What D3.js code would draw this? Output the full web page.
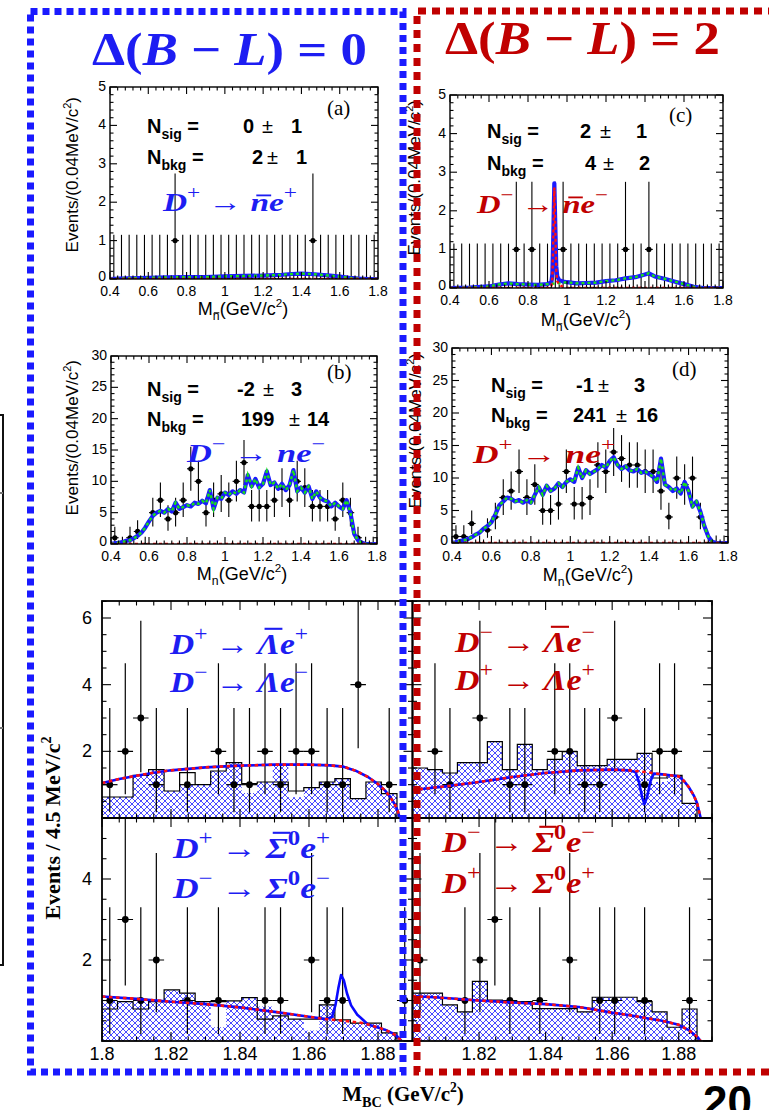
<!DOCTYPE html>
<html>
<head>
<meta charset="utf-8">
<script src="https://cdn.jsdelivr.net/npm/d3@7/dist/d3.min.js"></script>
<style>
html,body{margin:0;padding:0;background:#fff;}
svg{display:block;}
</style>
</head>
<body>
<svg id="fig" width="769" height="1110" xmlns="http://www.w3.org/2000/svg"></svg>
<script>
// ---------- M(n) spectra: 35 bins of 0.04 GeV/c^2 between 0.40 and 1.80 ----------
const mnBinLow = 0.40, mnBinWidth = 0.04;
const countsA = [0,0,0,0,0,0,0,0,1,0, 0,0,0,0,0,0,0,0,0,0, 0,0,0,0,0,0,1,0,0,0, 0,0,0,0,0];
const countsC = [0,0,0,0,0,0,0,0,1,0, 1,0,0,1,1,0,0,0,0,0, 0,0,1,0,0,1,0,0,0,0, 0,0,0,0,0];
const countsB = [1,0,1,2,0,5,7,4,5,7, 12,10,5,7,8,7,10,13,6,6, 6,7,9,7,10,9,6,6,6,4, 7,5,1,0,0];
const countsD = [1,1,3,0,2,4,7,8,11,7, 9,5,5,6,11,6,6,7,12,11, 14,13,12,12,11,11,8,4,10,9, 10,4,0,0,0];
// 68% intervals drawn for a bin content of n events (index = n)
const mnErrLo = [0, 0, 0.8, 1.4, 2.1, 2.8, 3.6, 4.3, 5.1, 5.9, 6.8, 7.7, 8.5, 9.4, 10.3];
const mnErrHi = [1.15, 2.75, 3.8, 5.0, 6.2, 7.4, 8.6, 9.8, 11.0, 12.1, 13.3, 14.4, 15.5, 16.6, 17.7];

// fitted shapes, (a) and (c)
const bkgA = [[0.40,0],[0.45,0.01],[0.50,0.02],[0.60,0.03],[0.70,0.04],[0.80,0.05],[0.90,0.05],[1.00,0.07],[1.10,0.08],[1.20,0.09],[1.30,0.11],[1.35,0.13],[1.40,0.14],[1.45,0.13],[1.50,0.11],[1.55,0.09],[1.60,0.06],[1.65,0.03],[1.70,0.01],[1.75,0],[1.80,0]];
const sigA = [[0.40,0],[1.80,0]];
const bkgC = [[0.40,0],[0.50,0.01],[0.60,0.04],[0.65,0.09],[0.70,0.12],[0.75,0.10],[0.80,0.09],[0.85,0.08],[0.90,0.10],[0.95,0.12],[1.00,0.15],[1.05,0.12],[1.10,0.13],[1.15,0.14],[1.20,0.18],[1.25,0.20],[1.30,0.25],[1.35,0.28],[1.40,0.35],[1.42,0.38],[1.45,0.30],[1.50,0.24],[1.55,0.17],[1.60,0.10],[1.65,0.03],[1.70,0],[1.80,0]];
const sigC = [[0.40,0],[0.91,0],[0.92,0.04],[0.925,0.25],[0.93,1.3],[0.935,2.6],[0.94,1.5],[0.945,0.45],[0.95,0.18],[0.96,0.08],[0.98,0.03],[1.00,0],[1.80,0]];
const totC = [[0.40,0],[0.50,0.01],[0.60,0.04],[0.65,0.09],[0.70,0.12],[0.75,0.10],[0.80,0.09],[0.85,0.08],[0.90,0.10],[0.92,0.15],[0.925,0.36],[0.93,1.41],[0.935,2.71],[0.94,1.61],[0.945,0.56],[0.95,0.30],[0.96,0.20],[0.98,0.17],[1.00,0.15],[1.05,0.12],[1.10,0.13],[1.15,0.14],[1.20,0.18],[1.25,0.20],[1.30,0.25],[1.35,0.28],[1.40,0.35],[1.42,0.38],[1.45,0.30],[1.50,0.24],[1.55,0.17],[1.60,0.10],[1.65,0.03],[1.70,0],[1.80,0]];
// fitted background shapes of (b) and (d), sampled every 0.02 GeV/c^2 from 0.40
const bkgB = [0.0,0.1,0.2,0.3,0.5,0.6,0.9,1.3,1.8,2.6,3.6,4.5,5.0,5.3,5.0,5.6,5.2,6.6,5.6,5.9,6.2,6.0,6.6,6.4,6.9,6.5,8.6,5.6,7.4,7.2,8.2,7.8,8.4,8.0,8.6,8.2,11.0,9.2,10.4,9.0,9.6,11.6,9.4,9.8,8.8,9.6,8.6,9.4,11.8,8.4,9.0,8.2,9.2,7.2,8.4,7.4,7.0,6.8,6.0,6.6,6.0,5.6,7.0,5.0,1.6,0.6,0.2,0.0,0.0,0.0,0.0];
const bkgD = [0.0,0.1,0.3,0.4,0.6,0.9,1.3,1.6,2.2,2.6,3.2,4.4,5.8,6.4,7.0,6.8,6.4,6.6,6.2,6.6,6.2,7.4,8.6,7.4,8.8,8.0,8.4,9.2,8.6,9.4,9.8,9.4,11.6,10.0,11.2,10.6,11.0,11.4,12.0,11.6,12.6,13.2,12.0,11.4,11.8,11.2,11.0,11.4,10.8,11.0,10.6,10.2,9.4,13.0,9.0,8.6,8.0,8.4,7.6,9.4,8.0,5.6,6.4,4.8,2.6,1.0,0.2,0.0,0.0,0.0,0.0];
const mnGrid = d3.range(bkgB.length).map(i => +(0.40 + 0.02 * i).toFixed(2));
const zeroLine = [[0.40,0],[1.80,0]];

// ---------- M_BC spectra: 20 bins of 4.5 MeV/c^2 between 1.800 and 1.890 ----------
const mbcLow = 1.800, mbcBinWidth = 0.0045, mbcBins = 20;
const countsLamB0 = [1,2,3,1,0,1,0,2,1,1,2,1,2,2,1,1,4,0,1,0];
const countsLamB2 = [0,2,1,0,3,0,1,1,0,2,2,1,1,3,0,1,2,2,0,0];
const countsSigB0 = [1,3,1,2,0,1,0,1,0,0,1,1,0,2,1,1,0,0,0,1];
const countsSigB2 = [2,0,0,1,2,3,1,0,1,0,2,0,1,1,0,1,0,0,1,0];
// Poisson 68% intervals (index = n)
const mbcErrLo = [0, 0.17, 0.71, 1.37, 2.09];
const mbcErrHi = [0, 3.30, 4.64, 5.92, 7.16];
// simulated background: hatched histogram and open histogram
const hatchLamB0 = [0.63,0.63,1.28,1.45,0.81,1.00,1.00,1.41,1.66,0.75,1.08,1.56,0.62,0.91,1.08,1.18,0.58,1.08,0.73,0];
const openLamB0  = [0.63,0.63,1.28,1.45,0.81,1.36,1.00,1.41,1.66,1.03,1.08,1.08,0.81,0.91,1.08,1.18,0.58,1.08,0.73,0];
const hatchLamB2 = [1.50,1.45,1.35,1.66,1.66,2.29,1.45,2.21,1.45,1.76,1.99,1.57,1.57,1.76,1.76,1.94,1.08,1.28,0.44,0];
const openLamB2  = [1.50,1.45,1.35,1.66,1.66,2.29,1.45,2.21,1.45,1.76,1.99,1.57,1.57,1.76,1.76,1.94,1.20,1.28,0.44,0];
const hatchSigB0 = [1.00,0.97,0.97,0.97,1.26,1.18,0.97,0.34,0.99,1.07,0.85,0.62,0.54,0.26,0.89,0.52,0.44,0.44,0.20,0];
const openSigB0  = [0.79,0.97,0.79,0.97,1.26,1.18,0.97,0.97,0.99,1.07,0.54,0.62,0.54,0.54,0.89,0.52,0.44,0.44,0.20,0];
const hatchSigB2 = [1.18,1.18,0.89,0.72,1.47,1.01,0.97,0.97,0.80,0.80,0.80,0.72,1.08,1.08,1.08,0.97,0.72,0.34,0.79,0];
const openSigB2  = [1.18,1.18,0.89,0.72,1.47,1.01,0.97,0.97,0.80,0.80,0.80,0.72,1.08,1.08,1.08,0.97,0.72,0.34,0.79,0];
// fit results: total (blue) and background (red dashed)
const fitLamB0 = [[1.800,1.05],[1.805,1.17],[1.810,1.27],[1.815,1.36],[1.820,1.43],[1.830,1.52],[1.840,1.57],[1.850,1.60],[1.860,1.60],[1.866,1.58],[1.870,1.54],[1.8735,1.42],[1.8771,1.23],[1.880,1.02],[1.882,0.83],[1.8835,0.64],[1.8848,0.42],[1.8857,0.22],[1.8863,0]];
const bkgLamB2 = [[1.800,0.84],[1.810,0.95],[1.820,1.08],[1.830,1.23],[1.840,1.35],[1.850,1.43],[1.860,1.45],[1.865,1.43],[1.870,1.38],[1.875,1.31],[1.880,1.25],[1.8815,1.12],[1.883,0.93],[1.8845,0.68],[1.8855,0.45],[1.8866,0]];
const totLamB2 = [[1.800,0.84],[1.810,0.95],[1.820,1.08],[1.830,1.23],[1.840,1.35],[1.850,1.43],[1.860,1.45],[1.865,1.43],[1.867,1.38],[1.868,1.10],[1.869,0.62],[1.8697,0.42],[1.8705,0.63],[1.8715,1.10],[1.8725,1.33],[1.875,1.31],[1.880,1.25],[1.8815,1.12],[1.883,0.93],[1.8845,0.68],[1.8855,0.45],[1.8866,0]];
const bkgSigB0 = [[1.800,1.10],[1.810,1.04],[1.820,0.97],[1.830,0.91],[1.840,0.83],[1.850,0.72],[1.860,0.60],[1.865,0.54],[1.870,0.50],[1.875,0.45],[1.8771,0.41],[1.879,0.36],[1.882,0.28],[1.884,0.20],[1.8855,0.12],[1.8868,0]];
const totSigB0 = [[1.800,1.10],[1.810,1.04],[1.820,0.97],[1.830,0.91],[1.840,0.83],[1.850,0.72],[1.860,0.60],[1.865,0.54],[1.8667,0.60],[1.8677,0.90],[1.8685,1.30],[1.8693,1.63],[1.8701,1.50],[1.871,1.18],[1.8722,0.88],[1.874,0.65],[1.8757,0.52],[1.8771,0.41],[1.879,0.36],[1.882,0.28],[1.884,0.20],[1.8855,0.12],[1.8868,0]];
const fitSigB2 = [[1.800,1.11],[1.810,1.06],[1.820,1.00],[1.830,0.95],[1.840,0.91],[1.850,0.84],[1.855,0.77],[1.860,0.70],[1.865,0.64],[1.870,0.57],[1.875,0.50],[1.880,0.40],[1.883,0.27],[1.8856,0.10],[1.8866,0]];

const SANS = "'Liberation Sans', Arial, Helvetica, sans-serif";
const SERIF = "'Liberation Serif', 'Times New Roman', serif";
const BLUE_TXT = '#1d1df2', RED_TXT = '#c00000';

const svg = d3.select('#fig');
const defs = svg.append('defs');
const hatch = defs.append('pattern').attr('id', 'xhatch').attr('patternUnits', 'userSpaceOnUse')
  .attr('width', 6).attr('height', 6);
hatch.append('path').attr('d', 'M0,0L6,6M6,0L0,6M-1,1L1,-1M5,7L7,5M-1,5L1,7M5,-1L7,1')
  .attr('stroke', '#2a2aff').attr('stroke-width', 0.85).attr('fill', 'none');

// text made of styled runs; returns the group holding it
function richText(parent, x, y, parts, o) {
  const fs = o.size;
  const g = parent.append('g');
  if (o.transform) g.attr('transform', o.transform);
  const t = g.append('text').attr('x', x).attr('y', y)
    .attr('font-family', o.family).attr('font-size', fs)
    .attr('font-weight', o.weight || 'normal').attr('fill', o.fill || '#000')
    .attr('text-anchor', o.anchor || 'start');
  let shift = 0;
  const bars = [];
  parts.forEach(p => {
    const s = t.append('tspan').text(p.t);
    let target = 0, size = fs;
    if (p.sup) { target = -(o.supShift || 0.42) * fs; size = fs * (o.supScale || 0.65); }
    if (p.sub) { target = (o.subShift || 0.28) * fs; size = fs * (o.subScale || 0.68); }
    s.attr('font-size', size);
    if (target !== shift) { s.attr('dy', target - shift); shift = target; }
    if (p.it) s.attr('font-style', 'italic');
    if (p.w) s.attr('font-weight', p.w);
    if (p.bar) bars.push({ node: s.node(), size, base: y + target, h: p.bar, it: p.it });
  });
  if (o.length) t.attr('textLength', o.length).attr('lengthAdjust', 'spacingAndGlyphs');
  bars.forEach(b => {
    const r = b.node.getExtentOfChar(0);
    const off = b.it ? 0.12 * b.size : 0;
    const yy = b.base - b.h * b.size;
    g.append('line').attr('x1', r.x + 0.15 * r.width + off).attr('x2', r.x + 0.95 * r.width + off)
      .attr('y1', yy).attr('y2', yy).attr('stroke', o.fill || '#000')
      .attr('stroke-width', Math.max(1, 0.07 * b.size));
  });
  return g;
}

function ticksAndFrame(g, x, y, o) {
  const [xa, xb] = x.range(), [yb, ya] = y.range();
  const xd = x.domain(), yd = y.domain();
  const isMaj = (v, m) => Math.abs(v / m - Math.round(v / m)) < 1e-6;
  const grid = (d, s) => d3.range(Math.ceil(d[0] / s - 1e-6), Math.floor(d[1] / s + 1e-6) + 1).map(k => k * s);
  const tk = g.append('g').attr('stroke', '#000').attr('stroke-width', 1.1);
  grid(xd, o.xStep).forEach(v => {
    const px = x(v), L = isMaj(v, o.xMajor) ? o.lMaj : o.lMin;
    tk.append('line').attr('x1', px).attr('x2', px).attr('y1', yb).attr('y2', yb - L);
    tk.append('line').attr('x1', px).attr('x2', px).attr('y1', ya).attr('y2', ya + L);
  });
  grid(yd, o.yStep).forEach(v => {
    const py = y(v), L = isMaj(v, o.yMajor) ? o.lMaj : o.lMin;
    tk.append('line').attr('y1', py).attr('y2', py).attr('x1', xa).attr('x2', xa + L);
    tk.append('line').attr('y1', py).attr('y2', py).attr('x1', xb).attr('x2', xb - L);
  });
  g.append('rect').attr('x', xa).attr('y', ya).attr('width', xb - xa).attr('height', yb - ya)
    .attr('fill', 'none').attr('stroke', '#000').attr('stroke-width', o.frameW || 1.5);
}

function addClip(id, x0, y0, w, h) {
  defs.append('clipPath').attr('id', id).append('rect').attr('x', x0).attr('y', y0).attr('width', w).attr('height', h);
  return `url(#${id})`;
}

// ---------- upper four M(n) panels ----------
const mnPanels = [
  { key: 'a', x0: 110, x1: 378, y0: 87, y1: 279, ymax: 5, yStep: 0.2, yMajor: 1, counts: countsA,
    tot: bkgA, bkg: bkgA, sig: sigA, tag: '(a)', tagX: 327, tagY: 115, bar: true,
    ns: ['0', '1'], nb: ['2', '1'], nx: { N: 147, s1: 243, p1: 262, s2: 291, b1: 252, p2: 267, b2: 296 }, l1: 133, l2: 164,
    ytX: 78, ytEnd: 97, xtX: 243, xtY: 315, tickY: 296 },
  { key: 'c', x0: 450, x1: 723, y0: 95, y1: 288, ymax: 5, yStep: 0.2, yMajor: 1, counts: countsC,
    tot: totC, bkg: bkgC, sig: sigC, tag: '(c)', tagX: 669, tagY: 122, bar: true,
    ns: ['2', '1'], nb: ['4', '2'], nx: { N: 487, s1: 580, p1: 600, s2: 636, b1: 585, p2: 603, b2: 639 }, l1: 138, l2: 170,
    ytX: 420, ytEnd: 100, xtX: 586, xtY: 326, tickY: 305 },
  { key: 'b', x0: 111, x1: 377, y0: 356, y1: 544, ymax: 30, yStep: 1, yMajor: 5, counts: countsB,
    tot: mnGrid.map((v, i) => [v, bkgB[i]]), bkg: mnGrid.map((v, i) => [v, bkgB[i]]), sig: zeroLine, tag: '(b)', tagX: 327, tagY: 379, bar: false,
    ns: ['-2', '3'], nb: ['199', '14'], nx: { N: 147, s1: 237, p1: 263, s2: 291, b1: 241, p2: 289, b2: 307 }, l1: 396, l2: 426,
    ytX: 78, ytEnd: 360, xtX: 242, xtY: 580, tickY: 561 },
  { key: 'd', x0: 452, x1: 728, y0: 348, y1: 543, ymax: 30, yStep: 1, yMajor: 5, counts: countsD,
    tot: mnGrid.map((v, i) => [v, bkgD[i]]), bkg: mnGrid.map((v, i) => [v, bkgD[i]]), sig: zeroLine, tag: '(d)', tagX: 672, tagY: 376, bar: false,
    ns: ['-1', '3'], nb: ['241', '16'], nx: { N: 491, s1: 576, p1: 598, s2: 634, b1: 573, p2: 616, b2: 636 }, l1: 392, l2: 422,
    ytX: 421, ytEnd: 353, xtX: 588, xtY: 581, tickY: 561 }
];

mnPanels.forEach(p => {
  const x = d3.scaleLinear().domain([0.4, 1.8]).range([p.x0, p.x1]);
  const y = d3.scaleLinear().domain([0, p.ymax]).range([p.y1, p.y0]);
  const g = svg.append('g');
  const inner = g.append('g').attr('clip-path', addClip('clip-' + p.key, p.x0, p.y0 - 1, p.x1 - p.x0, p.y1 - p.y0 + 1));
  const data = inner.append('g').attr('stroke', '#000').attr('stroke-width', 1.1);
  p.counts.forEach((n, i) => {
    const xc = mnBinLow + mnBinWidth * (i + 0.5);
    data.append('line').attr('x1', x(xc)).attr('x2', x(xc)).attr('y1', y(mnErrLo[n])).attr('y2', y(mnErrHi[n]));
    data.append('line').attr('x1', x(xc - mnBinWidth / 2)).attr('x2', x(xc + mnBinWidth / 2)).attr('y1', y(n)).attr('y2', y(n));
    data.append('circle').attr('cx', x(xc)).attr('cy', y(n)).attr('r', n > 0 ? 2.6 : 1.6).attr('fill', '#000').attr('stroke', 'none');
  });
  const line = d3.line().x(d => x(d[0])).y(d => y(d[1]));
  inner.append('path').attr('d', line(p.tot)).attr('fill', 'none').attr('stroke', '#1a1aff').attr('stroke-width', 4.2).attr('stroke-linejoin', 'round');
  inner.append('path').attr('d', line(p.bkg)).attr('fill', 'none').attr('stroke', '#18e018').attr('stroke-width', 2.4).attr('stroke-dasharray', '3,3');
  inner.append('path').attr('d', line(p.sig)).attr('fill', 'none').attr('stroke', '#ff1010').attr('stroke-width', 2.4).attr('stroke-dasharray', '3,3');

  ticksAndFrame(g, x, y, { xStep: 0.04, xMajor: 0.2, yStep: p.yStep, yMajor: p.yMajor, lMaj: 7, lMin: 3.5, frameW: 1.4 });

  // tick labels
  const lab = g.append('g').attr('font-family', SANS).attr('font-size', 14).attr('fill', '#000');
  [0.4, 0.6, 0.8, 1.0, 1.2, 1.4, 1.6, 1.8].forEach(v => {
    lab.append('text').attr('x', x(v)).attr('y', p.tickY).attr('text-anchor', 'middle').text(String(+v.toFixed(1)));
  });
  d3.range(0, p.ymax + 1e-9, p.yMajor).forEach(v => {
    lab.append('text').attr('x', p.x0 - 4).attr('y', y(v) + (v === 0 ? 2 : 4)).attr('text-anchor', 'end').text(String(v));
  });
  // axis titles
  richText(g, 0, 0, [{ t: 'Events/(0.04MeV/c' }, { t: '2', sup: true }, { t: ')' }],
    { family: SANS, size: 17, anchor: 'end', transform: `translate(${p.ytX},${p.ytEnd}) rotate(-90)`, supShift: 0.4 });
  richText(g, p.xtX, p.xtY, [{ t: 'M' }, { t: 'n', sub: true, bar: p.bar ? 0.62 : 0 }, { t: '(GeV/c' }, { t: '2', sup: true }, { t: ')' }],
    { family: SANS, size: 18, anchor: 'middle', subShift: 0.3, supShift: 0.42 });
  // panel tag
  g.append('text').attr('x', p.tagX).attr('y', p.tagY).attr('font-family', SERIF).attr('font-size', 21).text(p.tag);
  // fitted yields
  const yl = g.append('g').attr('font-family', SANS).attr('font-size', 20).attr('font-weight', 'bold').attr('fill', '#000');
  richText(yl, p.nx.N, p.l1, [{ t: 'N' }, { t: 'sig', sub: true }, { t: ' =' }], { family: SANS, size: 20, weight: 'bold', subShift: 0.3, subScale: 0.7 });
  richText(yl, p.nx.N, p.l2, [{ t: 'N' }, { t: 'bkg', sub: true }, { t: ' =' }], { family: SANS, size: 20, weight: 'bold', subShift: 0.3, subScale: 0.7 });
  yl.append('text').attr('x', p.nx.s1).attr('y', p.l1).text(p.ns[0]);
  yl.append('text').attr('x', p.nx.p1).attr('y', p.l1).attr('font-weight', 'normal').text('±');
  yl.append('text').attr('x', p.nx.s2).attr('y', p.l1).text(p.ns[1]);
  yl.append('text').attr('x', p.nx.b1).attr('y', p.l2).text(p.nb[0]);
  yl.append('text').attr('x', p.nx.p2).attr('y', p.l2).attr('font-weight', 'normal').text('±');
  yl.append('text').attr('x', p.nx.b2).attr('y', p.l2).text(p.nb[1]);
});

// ---------- lower four M_BC panels ----------
const mbcEdges = d3.range(mbcBins + 1).map(i => mbcLow + i * mbcBinWidth);
const mbcPanels = [
  { key: 'lb0', x0: 102, x1: 412.5, y0: 601, y1: 818, ymax: 6.51, counts: countsLamB0, hatch: hatchLamB0, open: openLamB0, tot: fitLamB0, bkg: fitLamB0, left: true, bottom: false },
  { key: 'lb2', x0: 412.5, x1: 712, y0: 601, y1: 818, ymax: 6.51, counts: countsLamB2, hatch: hatchLamB2, open: openLamB2, tot: totLamB2, bkg: bkgLamB2, left: false, bottom: false },
  { key: 'sb0', x0: 102, x1: 412.5, y0: 818, y1: 1041, ymax: 5.506, counts: countsSigB0, hatch: hatchSigB0, open: openSigB0, tot: totSigB0, bkg: bkgSigB0, left: true, bottom: true },
  { key: 'sb2', x0: 412.5, x1: 712, y0: 818, y1: 1041, ymax: 5.506, counts: countsSigB2, hatch: hatchSigB2, open: openSigB2, tot: fitSigB2, bkg: fitSigB2, left: false, bottom: true }
];

function stepPoints(h) {
  const pts = [[mbcEdges[0], 0]];
  h.forEach((v, i) => { pts.push([mbcEdges[i], v]); pts.push([mbcEdges[i + 1], v]); });
  pts.push([mbcEdges[mbcEdges.length - 1], 0]);
  return pts;
}

mbcPanels.forEach(p => {
  const x = d3.scaleLinear().domain([1.80, 1.89]).range([p.x0, p.x1]);
  const y = d3.scaleLinear().domain([0, p.ymax]).range([p.y1, p.y0]);
  const g = svg.append('g');
  const inner = g.append('g').attr('clip-path', addClip('clip-' + p.key, p.x0, p.y0, p.x1 - p.x0, p.y1 - p.y0));
  const line = d3.line().x(d => x(d[0])).y(d => y(d[1]));
  inner.append('path').attr('d', line(stepPoints(p.hatch))).attr('fill', 'url(#xhatch)').attr('stroke', 'none');
  inner.append('path').attr('d', line(stepPoints(p.open))).attr('fill', 'none').attr('stroke', '#000').attr('stroke-width', 1.2);
  const data = inner.append('g').attr('stroke', '#000').attr('stroke-width', 1.2);
  p.counts.forEach((n, i) => {
    if (n === 0) return;
    const xc = mbcLow + mbcBinWidth * (i + 0.5);
    data.append('line').attr('x1', x(xc)).attr('x2', x(xc)).attr('y1', y(mbcErrLo[n])).attr('y2', y(mbcErrHi[n]));
    data.append('line').attr('x1', x(xc - mbcBinWidth / 2)).attr('x2', x(xc + mbcBinWidth / 2)).attr('y1', y(n)).attr('y2', y(n));
    data.append('circle').attr('cx', x(xc)).attr('cy', y(n)).attr('r', 3.4).attr('fill', '#000').attr('stroke', 'none');
  });
  inner.append('path').attr('d', line(p.tot)).attr('fill', 'none').attr('stroke', '#0a0aff').attr('stroke-width', 2.6).attr('stroke-linejoin', 'round');
  inner.append('path').attr('d', line(p.bkg)).attr('fill', 'none').attr('stroke', '#ff1010').attr('stroke-width', 2.6).attr('stroke-dasharray', '3.5,3.5');

  ticksAndFrame(g, x, y, { xStep: 0.005, xMajor: 0.02, yStep: 0.5, yMajor: 2, lMaj: 9, lMin: 4.5, frameW: 1.8 });

  const lab = g.append('g').attr('font-family', SANS).attr('font-size', 18).attr('fill', '#000');
  if (p.left) {
    (p.bottom ? [2, 4] : [2, 4, 6]).forEach(v => {
      lab.append('text').attr('x', 92).attr('y', y(v) + 6).attr('text-anchor', 'end').text(String(v));
    });
  }
  if (p.bottom) {
    (p.left ? [1.80, 1.82, 1.84, 1.86, 1.88] : [1.82, 1.84, 1.86, 1.88]).forEach(v => {
      lab.append('text').attr('x', x(v)).attr('y', 1060).attr('text-anchor', 'middle').text(String(+v.toFixed(2)));
    });
  }
});

// decay-mode labels
function mode(x, y, parts, color, size, len) {
  richText(svg, x, y, parts, { family: SERIF, size, weight: 'bold', fill: color, length: len, supShift: 0.45, supScale: 0.7 });
}
const D = { t: 'D', it: true }, arrow = { t: ' \u2192 ', w: 'normal' };
const sp = { t: '+', sup: true, w: 'normal' }, sm = { t: '\u2212', sup: true, w: 'normal' };
const e = { t: 'e', it: true };
mode(163, 211, [D, sp, arrow, { t: 'n', it: true, bar: 0.6 }, e, sp], BLUE_TXT, 26, 134);
mode(477, 213, [D, sm, arrow, { t: 'n', it: true, bar: 0.6 }, e, sm], RED_TXT, 26, 131);
mode(187, 462, [D, sm, arrow, { t: 'n', it: true }, e, sm], BLUE_TXT, 26, 138);
mode(473, 463, [D, sp, arrow, { t: 'n', it: true }, e, sp], RED_TXT, 26, 142);
mode(170, 654, [D, sp, arrow, { t: '\u039B', it: true, bar: 0.84 }, e, sp], BLUE_TXT, 30, 138);
mode(170, 692, [D, sm, arrow, { t: '\u039B', it: true }, e, sm], BLUE_TXT, 30, 138);
mode(455, 652, [D, sm, arrow, { t: '\u039B', it: true, bar: 0.84 }, e, sm], RED_TXT, 30, 140);
mode(455, 690, [D, sp, arrow, { t: '\u039B', it: true }, e, sp], RED_TXT, 30, 140);
mode(173, 858, [D, sp, arrow, { t: '\u03A3', it: true, bar: 0.84 }, { t: '0', sup: true }, e, sp], BLUE_TXT, 30, 157);
mode(173, 898, [D, sm, arrow, { t: '\u03A3', it: true }, { t: '0', sup: true }, e, sm], BLUE_TXT, 30, 157);
mode(442, 852, [D, sm, arrow, { t: '\u03A3', it: true, bar: 0.84 }, { t: '0', sup: true }, e, sm], RED_TXT, 30, 153);
mode(442, 893, [D, sp, arrow, { t: '\u03A3', it: true }, { t: '0', sup: true }, e, sp], RED_TXT, 30, 153);

// shared axis titles of the M_BC block
richText(svg, 0, 0, [{ t: 'Events / 4.5 MeV/c' }, { t: '2', sup: true }],
  { family: SERIF, size: 22, weight: 'bold', anchor: 'middle', transform: 'translate(60,828) rotate(-90)' });
richText(svg, 403, 1101, [{ t: 'M' }, { t: 'BC', sub: true }, { t: ' (GeV/c' }, { t: '2', sup: true }, { t: ')' }],
  { family: SERIF, size: 21, weight: 'bold', anchor: 'middle', subShift: 0.3 });

// section headings
richText(svg, 92, 65, [{ t: '\u0394(' }, { t: 'B', it: true }, { t: ' \u2212 ' }, { t: 'L', it: true }, { t: ') = 0' }],
  { family: SERIF, size: 46, weight: 'bold', fill: BLUE_TXT, length: 275 });
richText(svg, 445, 54, [{ t: '\u0394(' }, { t: 'B', it: true }, { t: ' \u2212 ' }, { t: 'L', it: true }, { t: ') = 2' }],
  { family: SERIF, size: 46, weight: 'bold', fill: RED_TXT, length: 275 });

// dotted section boxes
svg.append('rect').attr('x', 30.5).attr('y', 11.5).attr('width', 372.5).attr('height', 1060.5)
  .attr('fill', 'none').attr('stroke', '#1a1aff').attr('stroke-width', 7).attr('stroke-dasharray', '7,5');
svg.append('path').attr('d', 'M790,11L417,11L417,1072L790,1072')
  .attr('fill', 'none').attr('stroke', '#c00000').attr('stroke-width', 7).attr('stroke-dasharray', '8,6');

// edge of a neighbouring frame at the left margin
const edge = svg.append('g').attr('stroke', '#111').attr('stroke-width', 2);
edge.append('path').attr('d', 'M0,415L3,415L3,965L0,965').attr('fill', 'none');
edge.append('line').attr('x1', 0).attr('x2', 3).attr('y1', 493).attr('y2', 493).attr('stroke', '#777');
edge.append('line').attr('x1', 0).attr('x2', 3).attr('y1', 728).attr('y2', 728).attr('stroke', '#777');

// slide number
svg.append('text').attr('x', 703).attr('y', 1117).attr('font-family', SANS).attr('font-weight', 'bold')
  .attr('font-size', 44).attr('fill', '#000').text('20');
</script>
</body>
</html>
